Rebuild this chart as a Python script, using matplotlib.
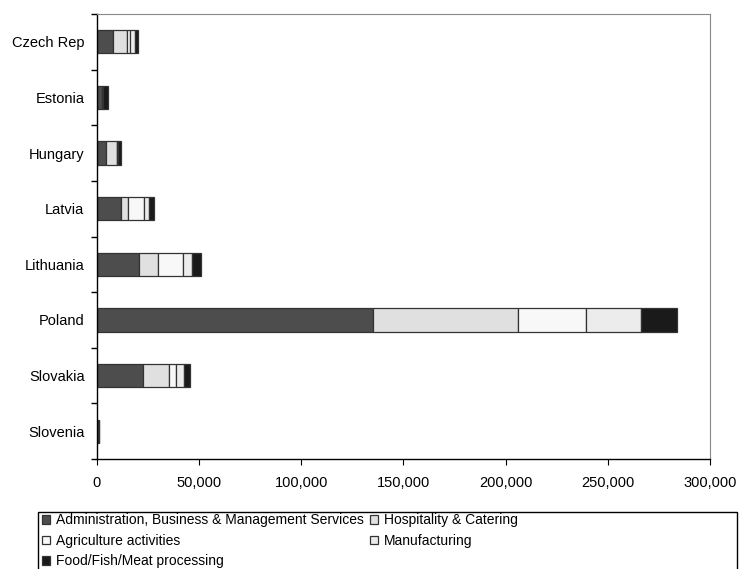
import matplotlib.pyplot as plt
import matplotlib.ticker as mticker
from matplotlib.patches import Rectangle
import numpy as np

plt.rcParams['font.family'] = ['Liberation Sans', 'DejaVu Sans']

countries = ['Czech Rep', 'Estonia', 'Hungary', 'Latvia', 'Lithuania',
             'Poland', 'Slovakia', 'Slovenia']

# registered workers by sector
admin = [7700, 2600, 4200, 11600, 20600, 135000, 22400, 400]
hospitality = [7100, 300, 5500, 3700, 9400, 71000, 13000, 200]
agriculture = [1400, 0, 200, 7700, 12200, 33500, 3500, 100]
manufacturing = [2200, 200, 300, 2600, 4500, 26500, 3700, 100]
food = [1800, 2100, 1700, 2300, 4200, 18000, 2900, 400]

sectors = [
    ('Administration, Business & Management Services', admin, '#4d4d4d'),
    ('Hospitality & Catering', hospitality, '#e0e0e0'),
    ('Agriculture activities', agriculture, '#f8f8f8'),
    ('Manufacturing', manufacturing, '#ececec'),
    ('Food/Fish/Meat processing', food, '#1a1a1a'),
]

fig = plt.figure(figsize=(7.42, 5.69), dpi=100)
ax = fig.add_axes([0.1307, 0.1933, 0.8262, 0.7821])

y = np.arange(len(countries))
left = np.zeros(len(countries))
bars = {}
for name, vals, col in sectors:
    vals = np.array(vals, dtype=float)
    bars[name] = ax.barh(y, vals, left=left, height=0.42, color=col,
                         edgecolor='#333333', linewidth=0.9, label=name)
    left += vals

ax.set_ylim(len(countries) - 0.5, -0.5)
ax.set_xlim(0, 300000)
ax.set_yticks(y)
ax.set_yticklabels(countries, fontsize=10.5)
ax.set_yticks(np.arange(-0.5, len(countries)), minor=True)
ax.tick_params(axis='y', which='major', length=0, pad=9)
ax.tick_params(axis='y', which='minor', length=4, direction='out', width=1)
ax.set_xticks(np.arange(0, 300001, 50000))
ax.xaxis.set_major_formatter(mticker.FuncFormatter(lambda v, p: f'{int(v):,}'))
ax.tick_params(axis='x', length=4, direction='out', labelsize=10.5, pad=8)

for s in ['top', 'right']:
    ax.spines[s].set_color('#888888')
    ax.spines[s].set_linewidth(0.8)
for s in ['left', 'bottom']:
    ax.spines[s].set_color('black')
    ax.spines[s].set_linewidth(1.0)

# row-wise order in a two column legend
order = [0, 2, 4, 1, 3]
handles = [bars[sectors[i][0]] for i in order]
labels = [sectors[i][0] for i in order]
L = fig.legend(handles, labels, loc='upper left', ncol=2,
               bbox_to_anchor=(0.053, 0.1025),
               fontsize=10, frameon=False, borderaxespad=0,
               handlelength=0.6, handleheight=0.6, handletextpad=0.4,
               labelspacing=0.46, borderpad=0.2, columnspacing=0.45)

# legend frame spans the full width and runs off the bottom edge
fig.patches.append(Rectangle((0.0512, -0.02), 0.942, 0.1202,
                             transform=fig.transFigure, fill=False,
                             edgecolor='black', linewidth=1.0))

plt.savefig('out.png', dpi=100)
